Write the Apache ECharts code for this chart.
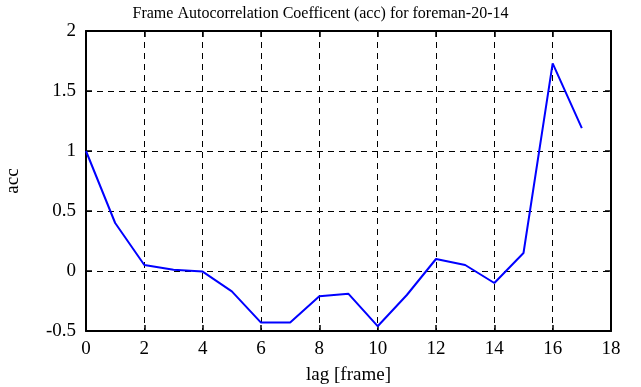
<!DOCTYPE html>
<html><head><meta charset="utf-8">
<script src="https://cdn.jsdelivr.net/npm/echarts@6/dist/echarts.min.js"></script>
<style>html,body{margin:0;padding:0;background:#fff}#c{width:641px;height:387px}</style>
</head><body><div id="c"></div>
<script>
const lags = [0,1,2,3,4,5,6,7,8,9,10,11,12,13,14,15,16,17];
const acc = [1.0,0.40,0.05,0.01,-0.005,-0.17,-0.43,-0.43,-0.21,-0.19,-0.46,-0.20,0.10,0.05,-0.10,0.15,1.73,1.19];
const titleText = 'Frame Autocorrelation Coefficent (acc) for foreman-20-14';
const xName = 'lag [frame]';
const yName = 'acc';
const font = 'Liberation Serif';
const chart = echarts.init(document.getElementById('c'));
const axLine = {show:true, onZero:false, lineStyle:{color:'#000', width:2}};
const tick = {show:true, inside:true, length:6, lineStyle:{color:'#000', width:1.5}};
const grid = {show:true, lineStyle:{color:'#000', width:1, type:[6,5]}};
chart.setOption({
  animation:false,
  title:{text:titleText, left:'center', top:1, textStyle:{fontFamily:font, fontSize:16, fontWeight:'normal', color:'#000'}},
  grid:{left:86, right:30, top:31, bottom:56, containLabel:false, outerBoundsMode:'none'},
  xAxis:[{type:'value', min:0, max:18, interval:2, name:xName, nameLocation:'middle', nameGap:35,
    nameTextStyle:{fontFamily:font, fontSize:19, color:'#000'},
    axisLine:axLine, axisTick:tick, splitLine:grid,
    axisLabel:{fontFamily:font, fontSize:19, color:'#000', margin:9}},
   {type:'value', position:'top', min:0, max:18, interval:2, axisLine:axLine, axisTick:tick, splitLine:{show:false}, axisLabel:{show:false}}],
  yAxis:[{type:'value', min:-0.5, max:2, interval:0.5, name:yName, nameLocation:'middle', nameGap:63,
    nameTextStyle:{fontFamily:font, fontSize:19, color:'#000'},
    axisLine:axLine, axisTick:tick, splitLine:grid,
    axisLabel:{fontFamily:font, fontSize:19, color:'#000', margin:10}},
   {type:'value', position:'right', min:-0.5, max:2, interval:0.5, axisLine:axLine, axisTick:tick, splitLine:{show:false}, axisLabel:{show:false}}],
  series:[{type:'line', data:lags.map((l,i)=>[l,acc[i]]), showSymbol:false, lineStyle:{color:'#0000ff', width:2}, itemStyle:{color:'#0000ff'}}]
});
</script></body></html>
